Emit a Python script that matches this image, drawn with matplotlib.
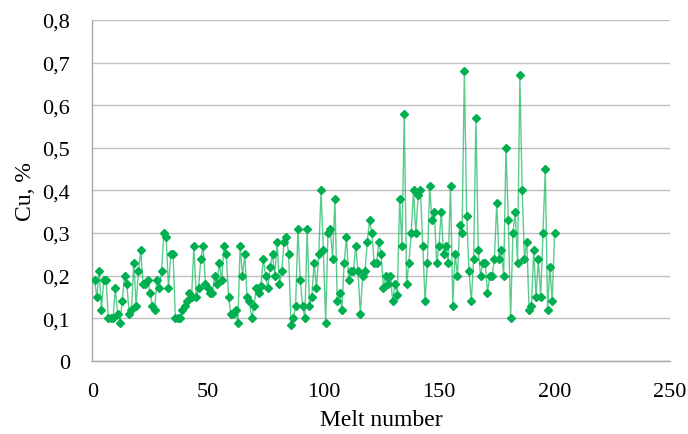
import numpy as np
import matplotlib.pyplot as plt
from matplotlib.ticker import FuncFormatter, MultipleLocator
from matplotlib.transforms import ScaledTranslation

# Cu content per melt
cu = [
    0.19, 0.15, 0.21, 0.12, 0.19, 0.19, 0.10, 0.10, 0.10, 0.17,
    0.11, 0.09, 0.14, 0.20, 0.18, 0.11, 0.12, 0.23, 0.13, 0.21,
    0.26, 0.18, 0.18, 0.19, 0.16, 0.13, 0.12, 0.19, 0.17, 0.21,
    0.30, 0.29, 0.17, 0.25, 0.25, 0.10, 0.10, 0.10, 0.12, 0.13,
    0.14, 0.16, 0.15, 0.27, 0.15, 0.17, 0.24, 0.27, 0.18, 0.17,
    0.16, 0.16, 0.20, 0.18, 0.23, 0.19, 0.27, 0.25, 0.15, 0.11,
    0.11, 0.12, 0.09, 0.27, 0.20, 0.25, 0.15, 0.14, 0.10, 0.13,
    0.17, 0.16, 0.175, 0.24, 0.20, 0.17, 0.22, 0.25, 0.20, 0.28,
    0.18, 0.21, 0.28, 0.29, 0.25, 0.085, 0.10, 0.13, 0.31, 0.19,
    0.13, 0.10, 0.31, 0.13, 0.15, 0.23, 0.17, 0.25, 0.40, 0.26,
    0.09, 0.30, 0.31, 0.24, 0.38, 0.14, 0.16, 0.12, 0.23, 0.29,
    0.19, 0.21, 0.21, 0.27, 0.21, 0.11, 0.20, 0.21, 0.28, 0.33,
    0.30, 0.23, 0.23, 0.28, 0.25, 0.17, 0.20, 0.18, 0.20, 0.14,
    0.18, 0.155, 0.38, 0.27, 0.58, 0.18, 0.23, 0.30, 0.40, 0.30,
    0.39, 0.40, 0.27, 0.14, 0.23, 0.41, 0.33, 0.35, 0.23, 0.27,
    0.35, 0.25, 0.27, 0.23, 0.41, 0.13, 0.25, 0.20, 0.32, 0.30,
    0.68, 0.34, 0.21, 0.14, 0.24, 0.57, 0.26, 0.20, 0.23, 0.23,
    0.16, 0.20, 0.20, 0.24, 0.37, 0.24, 0.26, 0.20, 0.50, 0.33,
    0.10, 0.30, 0.35, 0.23, 0.67, 0.40, 0.24, 0.28, 0.12, 0.13,
    0.26, 0.15, 0.24, 0.15, 0.30, 0.45, 0.12, 0.22, 0.14, 0.30,
]
melt = np.arange(1, len(cu) + 1)

plt.rcParams['font.family'] = ['Liberation Serif', 'DejaVu Serif']

fig = plt.figure(figsize=(6.88, 4.35), dpi=100)
ax = fig.add_axes([0.134, 0.168, 0.840, 0.784])

ax.plot(melt, cu, color='#00B050', lw=1.0, alpha=0.65, zorder=2)
ax.plot(melt, cu, ls='none', marker='D', ms=4, color='#00B050',
        mec='#00B050', zorder=3)

ax.set_xlim(0, 250)
ax.set_ylim(0, 0.8)
ax.xaxis.set_major_locator(MultipleLocator(50))
ax.yaxis.set_major_locator(MultipleLocator(0.1))
ax.yaxis.set_major_formatter(FuncFormatter(
    lambda v, p: '0' if abs(v) < 1e-9 else f'{v:.1f}'.replace('.', ',')))

ax.grid(axis='y', color='#BFBFBF', lw=1)
ax.set_axisbelow(True)
for s in ['top', 'right']:
    ax.spines[s].set_visible(False)
for s in ['left', 'bottom']:
    ax.spines[s].set_color('#A6A6A6')
    ax.spines[s].set_linewidth(1)
ax.tick_params(length=0, labelsize=16)
ax.tick_params(axis='x', pad=15)
ax.tick_params(axis='y', pad=16)

ax.set_xlabel('Melt number', fontsize=17)
ax.set_ylabel('Cu, %', fontsize=17)
ax.xaxis.set_label_coords(0.5, -0.14)
ax.yaxis.set_label_coords(-0.098, 0.5)

# keep the last x label inside the figure
fig.canvas.draw()
last = ax.get_xticklabels()[-1]
last.set_transform(last.get_transform() +
                   ScaledTranslation(-3 / 72, 0, fig.dpi_scale_trans))

fig.savefig('out.png', dpi=100)
